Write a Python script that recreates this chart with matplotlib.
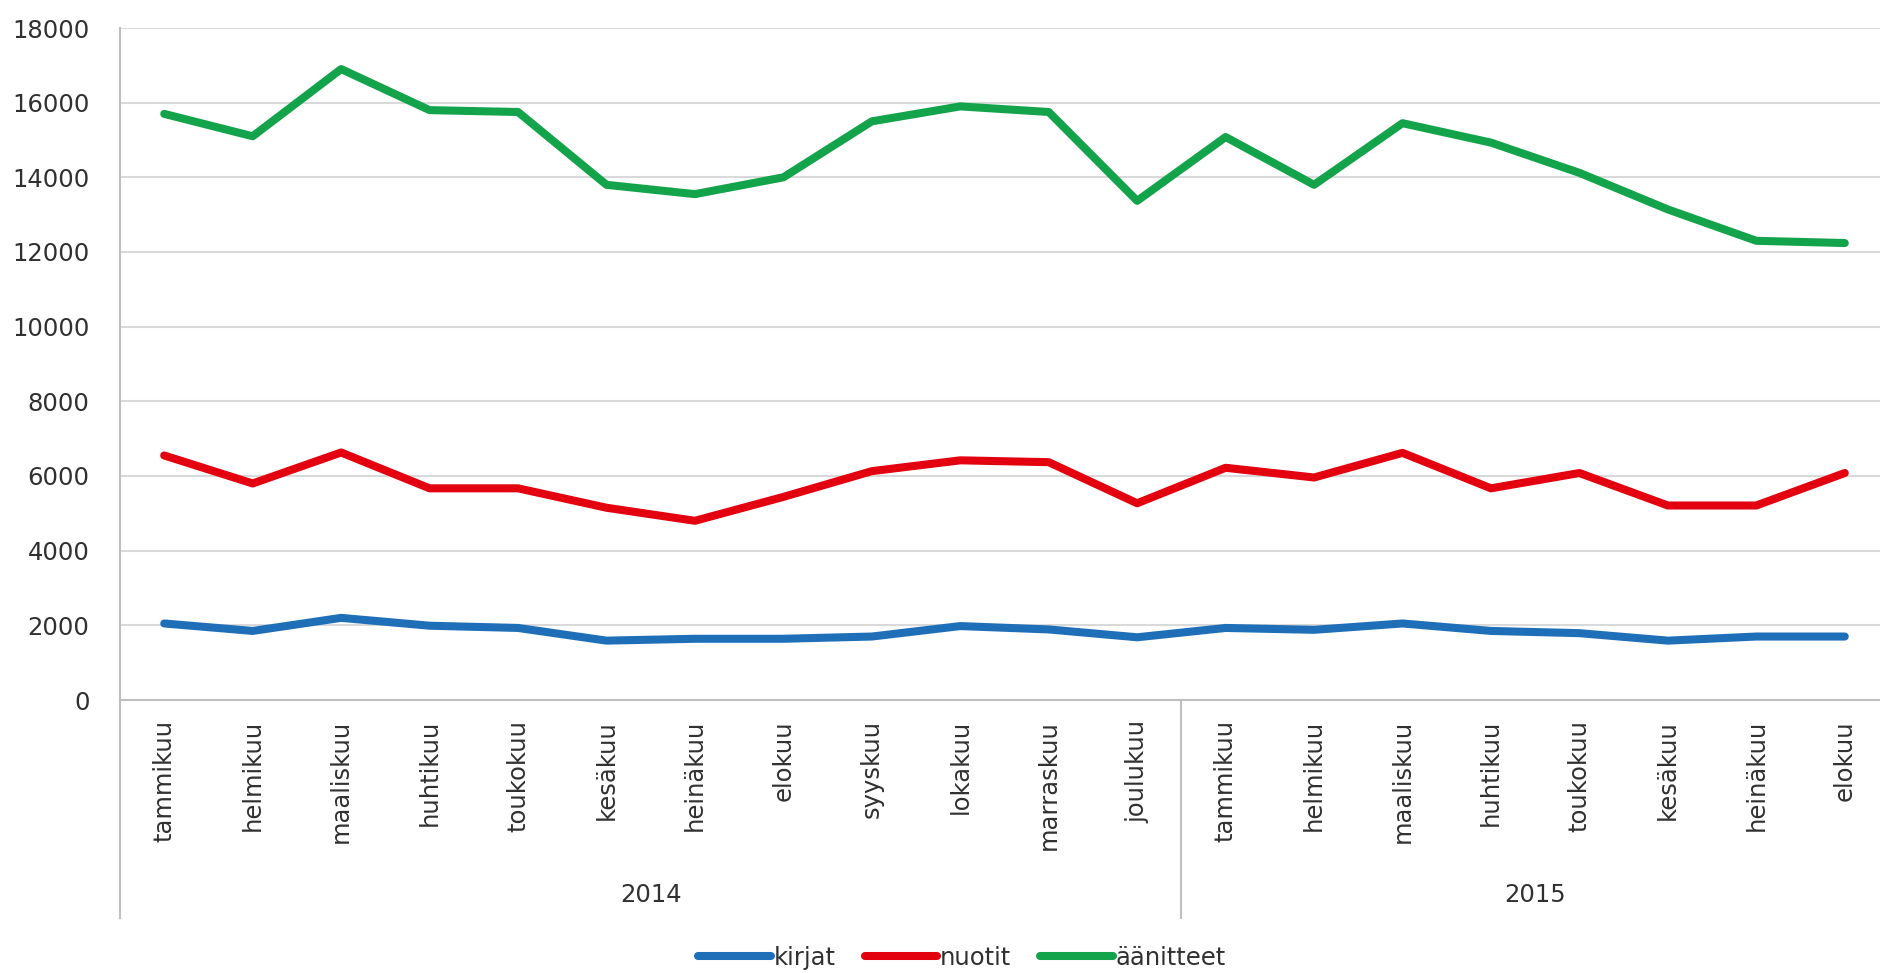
import matplotlib
matplotlib.use("Agg")
import matplotlib.pyplot as plt
from matplotlib.lines import Line2D

# Monthly counts
months = ["tammikuu", "helmikuu", "maaliskuu", "huhtikuu", "toukokuu", "kesäkuu",
          "heinäkuu", "elokuu", "syyskuu", "lokakuu", "marraskuu", "joulukuu",
          "tammikuu", "helmikuu", "maaliskuu", "huhtikuu", "toukokuu", "kesäkuu",
          "heinäkuu", "elokuu"]
years = ["2014", "2015"]
year_lengths = [12, 8]

kirjat = [2050, 1850, 2200, 1990, 1930, 1590, 1640, 1640, 1700, 1980,
          1890, 1680, 1930, 1880, 2050, 1850, 1790, 1590, 1700, 1700]
nuotit = [6550, 5800, 6630, 5670, 5670, 5150, 4800, 5440, 6130, 6420,
          6370, 5270, 6220, 5960, 6620, 5670, 6080, 5210, 5210, 6080]
aanitteet = [15700, 15100, 16900, 15800, 15750, 13800, 13550, 14000, 15500, 15900,
             15750, 13370, 15080, 13800, 15450, 14930, 14120, 13140, 12300, 12240]

series_names = ["kirjat", "nuotit", "äänitteet"]
colors = ["#1F6FB8", "#E3000F", "#13A34A"]

text_color = "#303030"
grid_color = "#D9D9D9"
plt.rcParams["font.family"] = ["DejaVu Sans"]
fs = 17.5

W, H = 1881, 973
fig = plt.figure(figsize=(W / 100, H / 100), dpi=100)
# plot area: left 120 px, top 28 px, bottom 700 px, category width ~88.5 px
ax = fig.add_axes([120 / W, 1 - 700 / H, 1769 / W, 672 / H])

x = list(range(len(months)))
for vals, name, c in zip([kirjat, nuotit, aanitteet], series_names, colors):
    ax.plot(x, vals, color=c, linewidth=5.8, label=name,
            solid_capstyle="round", solid_joinstyle="round", zorder=3)

ax.set_xlim(-0.5, len(months) - 0.5)
ax.set_ylim(0, 18000)
ax.set_yticks(range(0, 18001, 2000))
ax.set_yticklabels([str(v) for v in range(0, 18001, 2000)])
ax.tick_params(axis="y", length=0, pad=22, labelsize=fs, labelcolor=text_color)
ax.set_xticks([])
ax.grid(axis="y", color=grid_color, linewidth=1.5, zorder=0)

for side in ["top", "right"]:
    ax.spines[side].set_visible(False)
ax.spines["left"].set_color("#BFBFBF")
ax.spines["left"].set_linewidth(1.5)
ax.spines["bottom"].set_color("#BFBFBF")
ax.spines["bottom"].set_linewidth(1.5)

# month labels (rotated) and year group labels
axh = 672
for i, m in enumerate(months):
    ax.text(i, -20 / axh, m, rotation=90, ha="center", va="top", fontsize=fs,
            color=text_color, transform=ax.get_xaxis_transform())

start = -0.5
bounds = [start]
for yl in year_lengths:
    bounds.append(bounds[-1] + yl)
for j, yr in enumerate(years):
    mid = (bounds[j] + bounds[j + 1]) / 2
    ax.text(mid, -195 / axh, yr, ha="center", va="center", fontsize=fs,
            color=text_color, transform=ax.get_xaxis_transform())
for b in bounds:
    ax.add_line(Line2D([b, b], [0, -218 / axh], color="#BFBFBF", linewidth=1.5,
                       transform=ax.get_xaxis_transform(), clip_on=False))

leg = fig.legend(loc="center", bbox_to_anchor=(962 / W, 1 - 958 / H), ncol=3,
                 frameon=False, fontsize=fs, handlelength=3.0, handletextpad=0.1,
                 columnspacing=1.2, borderaxespad=0)
for t in leg.get_texts():
    t.set_color(text_color)

fig.savefig("out.png", dpi=100, facecolor="white")
